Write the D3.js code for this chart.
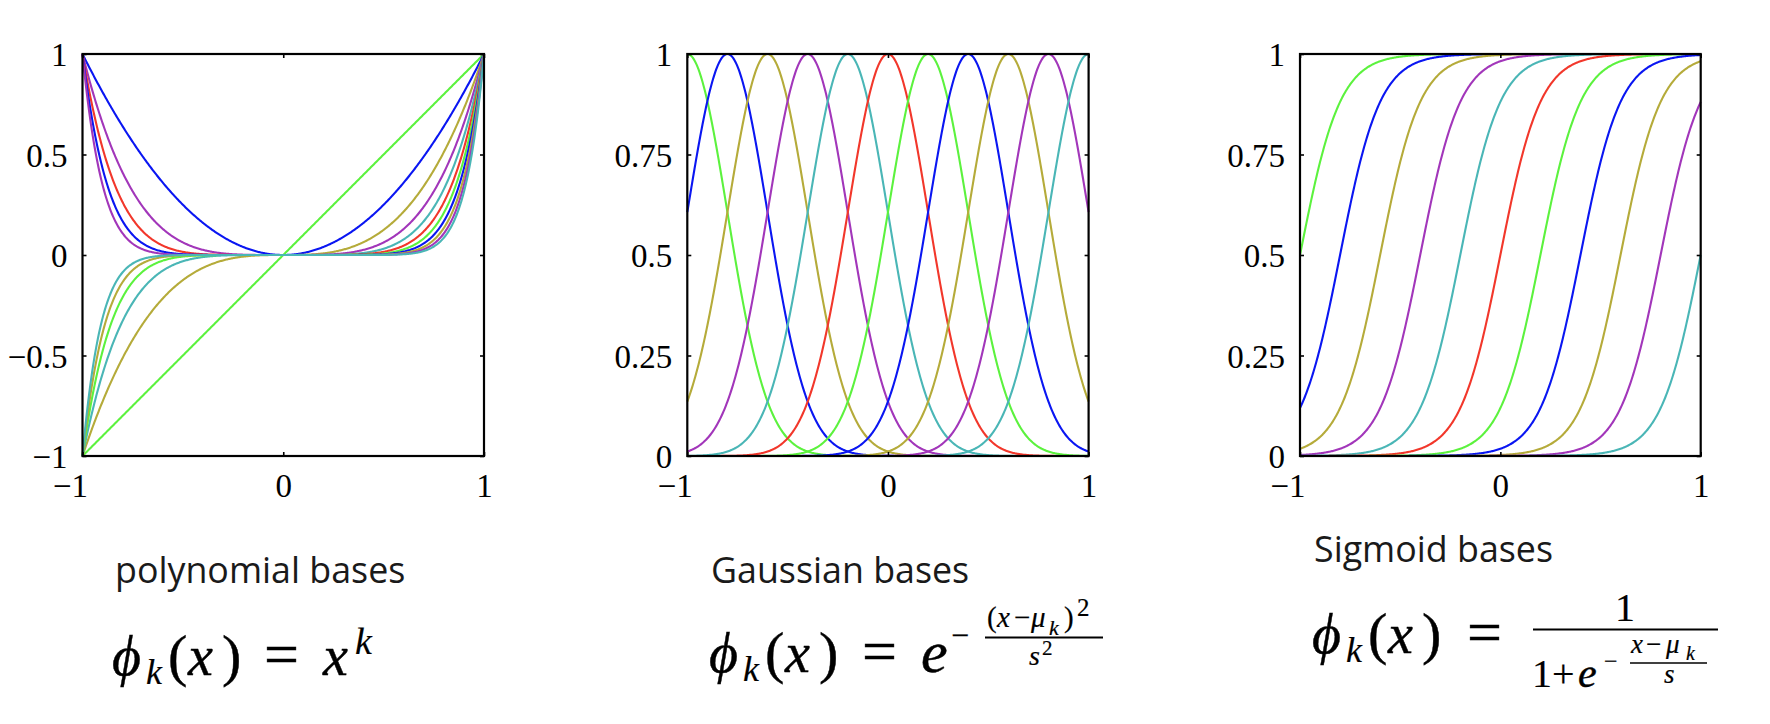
<!DOCTYPE html>
<html>
<head>
<meta charset="utf-8">
<script src="https://cdn.jsdelivr.net/npm/d3@7"></script>
<style>
  body { margin: 0; background: #fff; }
  svg { display: block; }
</style>
</head>
<body>
<svg id="chart"></svg>
<script>
//Setting
const width = 1770;
const height = 724;

//Data
const polyPowers = [1, 2, 3, 4, 5, 6, 7, 8, 9, 10, 11];
const gaussCenters = [-1, -0.8, -0.6, -0.4, -0.2, 0, 0.2, 0.4, 0.6, 0.8, 1];
const gaussS2 = 0.08;          // s^2
const sigmoidCenters = [-1, -0.8, -0.6, -0.4, -0.2, 0, 0.2, 0.4, 0.6, 0.8, 1];
const sigmoidS = 0.1;

const xTicks = [-1, 0, 1];
const xTickLabels = ["\u22121", "0", "1"];
const polyYTicks = [-1, -0.5, 0, 0.5, 1];
const polyYLabels = ["\u22121", "\u22120.5", "0", "0.5", "1"];
const unitYTicks = [0, 0.25, 0.5, 0.75, 1];
const unitYLabels = ["0", "0.25", "0.5", "0.75", "1"];

const titles = ["polynomial bases", "Gaussian bases", "Sigmoid bases"];

// matlab-like colour cycle
const colors = ["#5cf23e", "#0a16f2", "#b5ab3a", "#a236ba", "#4ab6b6", "#f2372b"];

const svg = d3.select("#chart")
  .attr("width", width)
  .attr("height", height);

const xs = d3.range(-1, 1.00001, 0.004);

function panel(opt) {
  const g = svg.append("g").attr("transform", `translate(${opt.left}, ${opt.top})`);
  const w = opt.w, h = opt.h;

  const x = d3.scaleLinear().domain([-1, 1]).range([0, w]);
  const y = d3.scaleLinear().domain(opt.yDomain).range([h, 0]);

  const line = d3.line().x(d => x(d[0])).y(d => y(d[1]));

  g.append("g")
    .selectAll("path")
    .data(opt.curves)
    .enter()
    .append("path")
    .attr("d", d => line(xs.map(v => [v, d.f(v)])))
    .attr("fill", "none")
    .attr("stroke", (d, i) => colors[i % colors.length])
    .attr("stroke-width", 2.1);

  // axes with inward ticks on every side
  const yLeft = g.append("g")
    .call(d3.axisLeft(y).tickValues(opt.yTicks).tickFormat((d, i) => opt.yLabels[i])
      .tickSize(-4).tickPadding(15));
  const yRight = g.append("g").attr("transform", `translate(${w},0)`)
    .call(d3.axisRight(y).tickValues(opt.yTicks).tickFormat("").tickSize(-4));
  const xBottom = g.append("g").attr("transform", `translate(0,${h})`)
    .call(d3.axisBottom(x).tickValues(xTicks).tickFormat((d, i) => xTickLabels[i])
      .tickSize(-4).tickPadding(18));
  const xTop = g.append("g")
    .call(d3.axisTop(x).tickValues(xTicks).tickFormat("").tickSize(-4));

  [yLeft, yRight, xBottom, xTop].forEach(a => {
    a.select(".domain").remove();
    a.attr("font-family", "'Liberation Serif', 'Times New Roman', serif")
     .attr("font-size", 33);
    a.selectAll(".tick line").attr("stroke", "#000").attr("stroke-width", 1.6);
    a.selectAll(".tick text").attr("fill", "#000");
  });
  yLeft.selectAll(".tick text").attr("dy", "0.36em");
  xBottom.selectAll(".tick text")
    .filter((d, i) => xTickLabels[i].startsWith("\u2212"))
    .attr("text-anchor", "end")
    .attr("dx", 5);

  g.append("rect")
    .attr("width", w)
    .attr("height", h)
    .attr("fill", "none")
    .attr("stroke", "#000")
    .attr("stroke-width", 2.2);

  return g;
}

panel({
  left: 82.5, top: 54, w: 401.5, h: 402,
  yDomain: [-1, 1], yTicks: polyYTicks, yLabels: polyYLabels,
  curves: polyPowers.map(k => ({ f: v => Math.pow(v, k) }))
});

panel({
  left: 687.3, top: 54, w: 401.3, h: 402,
  yDomain: [0, 1], yTicks: unitYTicks, yLabels: unitYLabels,
  curves: gaussCenters.map(mu => ({ f: v => Math.exp(-(v - mu) * (v - mu) / gaussS2) }))
});

panel({
  left: 1300, top: 54, w: 400.7, h: 402,
  yDomain: [0, 1], yTicks: unitYTicks, yLabels: unitYLabels,
  curves: sigmoidCenters.map(mu => ({ f: v => 1 / (1 + Math.exp(-(v - mu) / sigmoidS)) }))
});

// titles
const titlePos = [[115, 583], [711, 583], [1314, 562]];
svg.selectAll("text.title")
  .data(titles)
  .enter()
  .append("text")
  .attr("class", "title")
  .attr("x", (d, i) => titlePos[i][0])
  .attr("y", (d, i) => titlePos[i][1])
  .attr("font-family", "'Open Sans', 'Noto Sans', sans-serif")
  .attr("font-size", 35.8)
  .attr("fill", "#1a1a1a")
  .text(d => d);

// formulas
const mathFont = "'Liberation Serif', 'DejaVu Serif', serif";
function math(pieces) {
  const g = svg.append("g")
    .attr("font-family", mathFont)
    .attr("fill", "#000")
    .attr("stroke", "#000");
  pieces.forEach(p => {
    g.append("text")
      .attr("x", p[0]).attr("y", p[1])
      .attr("font-size", p[2])
      .attr("stroke-width", p[2] > 40 ? 0.45 : 0.2)
      .attr("font-style", p[3] ? "italic" : "normal")
      .attr("text-anchor", p[5] || "start")
      .text(p[4]);
  });
  return g;
}
function bar(x1, x2, y, sw) {
  svg.append("line")
    .attr("x1", x1).attr("x2", x2).attr("y1", y).attr("y2", y)
    .attr("stroke", "#000").attr("stroke-width", sw || 2);
}

// polynomial: phi_k(x) = x^k
math([
  [112, 675, 56, 1, "\u03d5"],
  [146, 684, 36, 1, "k"],
  [168, 675, 58, 0, "("],
  [188, 675, 56, 1, "x"],
  [222, 675, 58, 0, ")"],
  [264, 675, 62, 0, "="],
  [323, 675, 56, 1, "x"],
  [355, 654, 38, 1, "k"]
]);

// gaussian: phi_k(x) = e^{-(x-mu_k)^2 / s^2}
math([
  [709, 672, 56, 1, "\u03d5"],
  [743, 681, 36, 1, "k"],
  [765, 672, 58, 0, "("],
  [785, 672, 56, 1, "x"],
  [819, 672, 58, 0, ")"],
  [862, 672, 62, 0, "="],
  [921, 672, 60, 1, "e"],
  [951, 646, 32, 0, "\u2212"],
  [987, 627, 29, 0, "("],
  [997, 627, 29, 1, "x"],
  [1014, 627, 29, 0, "\u2212"],
  [1031, 627, 29, 1, "\u03bc"],
  [1049, 635, 22, 1, "k"],
  [1064, 627, 29, 0, ")"],
  [1077, 616, 25, 0, "2"],
  [1029, 665, 28, 1, "s"],
  [1042, 655, 21, 0, "2"]
]);
bar(985, 1103, 637.5, 2);

// sigmoid: phi_k(x) = 1 / (1 + e^{-(x-mu_k)/s})
math([
  [1312, 653, 56, 1, "\u03d5"],
  [1346, 662, 36, 1, "k"],
  [1368, 653, 58, 0, "("],
  [1388, 653, 56, 1, "x"],
  [1422, 653, 58, 0, ")"],
  [1467, 653, 62, 0, "="],
  [1625, 621, 40, 0, "1", "middle"],
  [1532, 687, 40, 0, "1"],
  [1552, 687, 40, 0, "+"],
  [1578, 687, 42, 1, "e"],
  [1604, 669, 24, 0, "\u2212"],
  [1631, 653, 27, 1, "x"],
  [1646, 653, 27, 0, "\u2212"],
  [1666, 653, 27, 1, "\u03bc"],
  [1686, 660, 20, 1, "k"],
  [1664, 683, 27, 1, "s"]
]);
bar(1533, 1718, 629.5, 2);
bar(1630, 1707, 663, 1.6);
</script>
</body>
</html>
